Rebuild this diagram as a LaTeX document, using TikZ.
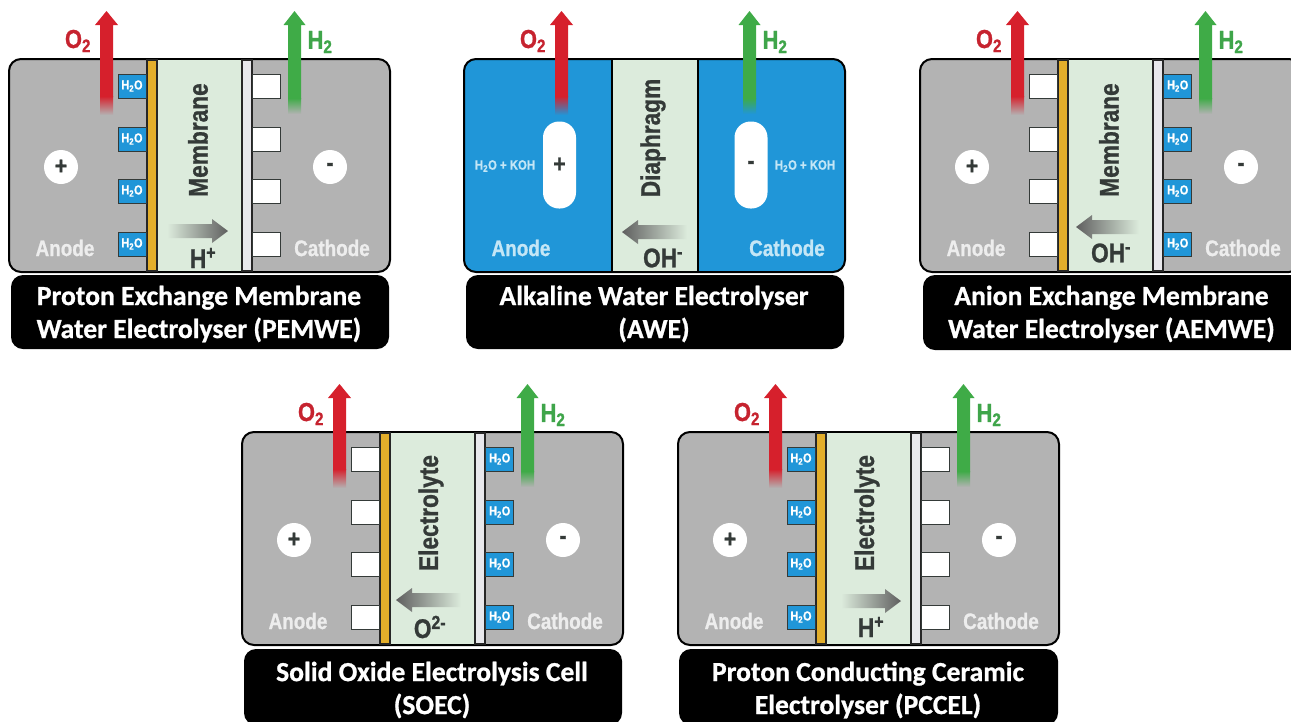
\documentclass[tikz,border=0pt]{standalone}
\usepackage{fontspec}
\setmainfont{Carlito}[BoldFeatures={FakeBold=0.9}]
\newfontfamily\condb[FakeStretch=0.84]{Liberation Sans}[BoldFont={Liberation Sans Bold},BoldFeatures={FakeBold=0.9}]
\usetikzlibrary{calc}
\definecolor{cellgray}{HTML}{B3B3B3}
\definecolor{cellblue}{HTML}{2096D8}
\definecolor{membcol}{HTML}{DCEBDC}
\definecolor{inkcol}{HTML}{343A38}
\definecolor{goldcol}{HTML}{E3AE2B}
\definecolor{stripecol}{HTML}{E8E8EC}
\definecolor{o2col}{HTML}{D6202C}
\definecolor{o2txt}{HTML}{C6232F}
\definecolor{h2col}{HTML}{3FAB47}
\definecolor{h2txt}{HTML}{3FA54A}
\definecolor{arrcol}{HTML}{5F5F5F}
\definecolor{palegray}{HTML}{EDEDED}
\definecolor{paleblue}{HTML}{C4E6F6}
\tikzset{
  x=1pt,y=-1pt,
  cellbody/.style={draw=black,line width=2pt,rounded corners=12pt},
  captionbox/.style={fill=black,rounded corners=12pt},
  captiontext/.style={text=white,align=center,font=\fontsize{27.6}{33}\selectfont\bfseries},
  gastext/.style={font=\condb\fontsize{26}{26}\selectfont\bfseries},
  sidetext/.style={font=\condb\fontsize{22.5}{22.5}\selectfont\bfseries},
  membtext/.style={rotate=90,text=inkcol,font=\condb\fontsize{27}{27}\selectfont\bfseries},
  iontext/.style={text=inkcol,font=\condb\fontsize{27}{27}\selectfont\bfseries},
  signdisc/.style={circle,fill=white,minimum size=34pt,inner sep=0pt,text=inkcol,font=\condb\fontsize{25}{25}\selectfont\bfseries},
  signpill/.style={rounded corners=16pt,fill=white,minimum width=33pt,minimum height=87pt,inner sep=0pt,text=inkcol,font=\condb\fontsize{25}{25}\selectfont\bfseries},
  bluebox/.style={draw=inkcol,line width=.8pt,fill=cellblue},
  whitebox/.style={draw=inkcol,line width=1pt,fill=white},
  waterlabel/.style={text=white,font=\condb\fontsize{13}{13}\selectfont\bfseries},
  strip/.style={draw=black!85,line width=1.5pt},
  kohlabel/.style={text=paleblue,font=\condb\fontsize{13.5}{13.5}\selectfont\bfseries},
}
% #1 back colour of fade
\newcommand{\gasarrows}[1]{%
  \shade[top color=o2col,bottom color=#1] (100,96) rectangle (113,115);
  \fill[o2col] (100,97) -- (100,25) -- (95,25) -- (106.5,11) -- (118,25) -- (113,25) -- (113,97) -- cycle;
  \shade[top color=h2col,bottom color=#1] (288,98) rectangle (301,114);
  \fill[h2col] (288,99) -- (288,25) -- (283.5,25) -- (294.5,11) -- (305.5,25) -- (301,25) -- (301,99) -- cycle;
  \node[gastext,text=o2txt] (o2label) at (78,41) {O\textsubscript{2}};
  \node[gastext,text=h2txt] (h2label) at (320,42) {H\textsubscript{2}};
}
\newcommand{\bluestack}[1]{%
  \foreach \yy in {74,127,179,232}{
    \draw[bluebox] (#1,\yy) rectangle ++(28,24);
    \node[waterlabel] at ($(#1,\yy)+(14,12)$) {H\textsubscript{2}O};
  }}
\newcommand{\whitestack}[1]{%
  \foreach \yy in {74,127,179,232}{
    \draw[whitebox] (#1,\yy) rectangle ++(28,24);
  }}
% gray cell: #1 membrane word, #2 stack type left, #3 stack type right
\newcommand{\graycell}[3]{%
  \draw[cellbody,fill=cellgray] (9,59) rectangle (390,272);
  \draw[strip,fill=goldcol] (147,60) rectangle (157,271);
  \fill[membcol] (157.7,60) rectangle (241.5,271);
  \draw[strip,fill=stripecol] (242,60) rectangle (252,271);
  #2{118}
  #3{252.7}
  \gasarrows{cellgray}
  \node[signdisc] (plus) at (61,167) {+};
  \node[signdisc] (minus) at (330,167) {-};
  \node[sidetext,text=palegray] (anode) at (65,248) {Anode};
  \node[sidetext,text=palegray] (cathode) at (332,248) {Cathode};
  \node[membtext] (memb) at (198,140) {#1};
}
\newcommand{\ionright}[3]{%
  \shade[left color=membcol,right color=arrcol] (#1,#3-7) -- (#2-16,#3-7) -- (#2-16,#3-12) -- (#2,#3) -- (#2-16,#3+12) -- (#2-16,#3+7) -- (#1,#3+7) -- cycle;}
\newcommand{\ionleft}[3]{%
  \shade[left color=arrcol,right color=membcol] (#1,#3-7) -- (#2+16,#3-7) -- (#2+16,#3-12) -- (#2,#3) -- (#2+16,#3+12) -- (#2+16,#3+7) -- (#1,#3+7) -- cycle;}
\begin{document}
\begin{tikzpicture}
\useasboundingbox (0,0) rectangle (1291,721);
\clip (0,0) rectangle (1291,721);
\fill[white] (0,0) rectangle (1291,721);

% PEMWE
\begin{scope}[shift={(0,0)}]
  \graycell{Membrane}{\bluestack}{\whitestack}
  \ionright{167}{228}{231}
  \node[iontext] (ion) at (203,258) {H\textsuperscript{+}};
  \fill[captionbox] (11,275) rectangle (389,349);
  \node[captiontext] (cap) at (199,314) {Proton Exchange Membrane\\Water Electrolyser (PEMWE)};
\end{scope}

% AWE
\begin{scope}[shift={(455,0)}]
  \draw[cellbody,fill=cellblue] (9,59) rectangle (390,272);
  \fill[membcol] (157,60) rectangle (242,271);
  \draw[line width=2pt] (156.5,59) -- (156.5,272) (242.5,59) -- (242.5,272);
  \gasarrows{cellblue}
  \node[signpill] (plus) at (104.5,165) {+};
  \node[signpill] (minus) at (296,165) {-};
  \node[kohlabel] (kohl) at (50,166) {H\textsubscript{2}O + KOH};
  \node[kohlabel] (kohr) at (350,166) {H\textsubscript{2}O + KOH};
  \node[sidetext,text=paleblue] (anode) at (66,248) {Anode};
  \node[sidetext,text=paleblue] (cathode) at (332,248) {Cathode};
  \node[membtext] (memb) at (198,138) {Diaphragm};
  \ionleft{232}{167}{232}
  \node[iontext] (ion) at (208,258) {OH\textsuperscript{-}};
  \fill[captionbox] (11,275) rectangle (389,349);
  \node[captiontext] (cap) at (199,314) {Alkaline Water Electrolyser\\(AWE)};
\end{scope}

% AEMWE
\begin{scope}[shift={(911,0)}]
  \graycell{Membrane}{\whitestack}{\bluestack}
  \ionleft{228}{165}{227}
  \node[iontext] (ion) at (200,253) {OH\textsuperscript{-}};
  \fill[captionbox] (12,275) rectangle (392,350);
  \node[captiontext] (cap) at (200.5,314) {Anion Exchange Membrane\\Water Electrolyser (AEMWE)};
\end{scope}

% SOEC
\begin{scope}[shift={(233,373)}]
  \graycell{Electrolyte}{\whitestack}{\bluestack}
  \ionleft{228}{163}{227}
  \node[iontext] (ion) at (197,254) {O\textsuperscript{2-}};
  \fill[captionbox] (11,276) rectangle (389,352);
  \node[captiontext] (cap) at (199,317) {Solid Oxide Electrolysis Cell\\(SOEC)};
\end{scope}

% PCCEL
\begin{scope}[shift={(669,373)}]
  \graycell{Electrolyte}{\bluestack}{\whitestack}
  \ionright{172}{232}{228}
  \node[iontext] (ion) at (202,254) {H\textsuperscript{+}};
  \fill[captionbox] (10,276) rectangle (389,352);
  \node[captiontext] (cap) at (199,317) {Proton Conducting Ceramic\\Electrolyser (PCCEL)};
\end{scope}
\end{tikzpicture}
\end{document}
